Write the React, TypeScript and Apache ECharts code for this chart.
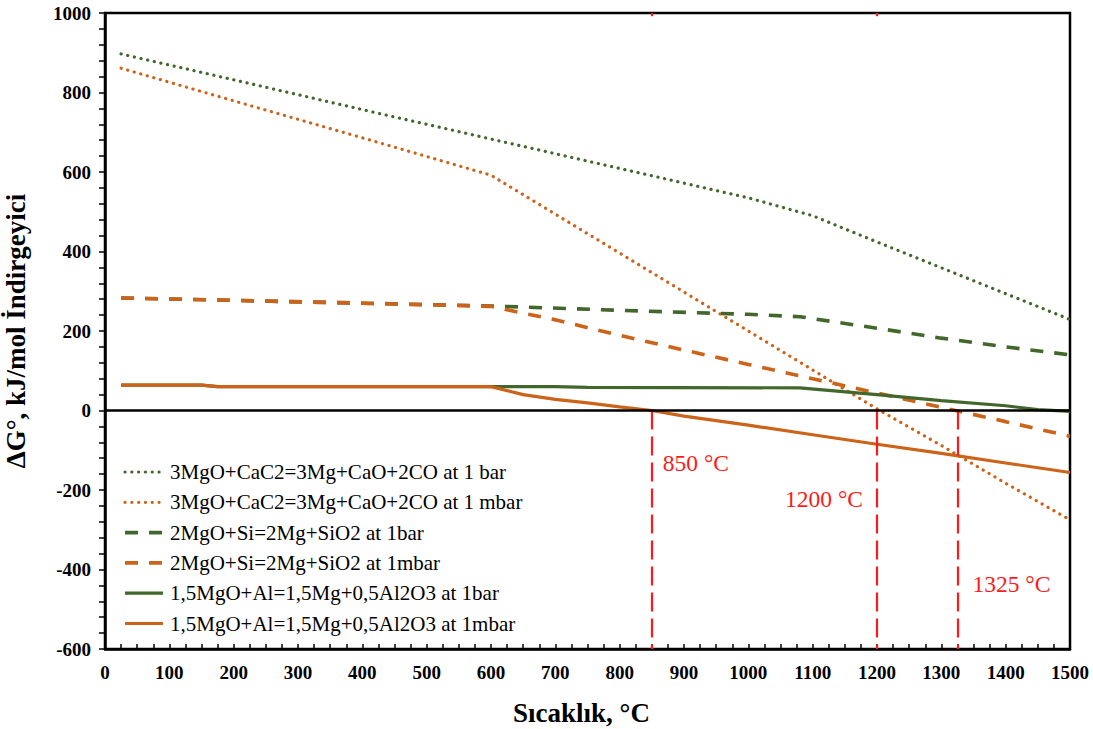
import React, { useEffect, useRef } from "react";
import * as echarts from "echarts";

// Temperatures (°C) and ΔG° values (kJ/mol reductant) for each reaction
const cac2BarT = [25, 200, 400, 600, 800, 1000, 1100, 1200, 1300, 1400, 1500];
const cac2BarG = [897, 832, 757, 683, 609, 535, 490, 424, 359, 294, 229];

const cac2MbarT = [25, 200, 400, 600, 700, 800, 900, 1000, 1100, 1200, 1300, 1400, 1500];
const cac2MbarG = [861, 779, 686, 592, 494, 396, 298, 200, 102, 4, -88, -183, -275];

const siBarT = [25, 200, 400, 600, 800, 1000, 1080, 1200, 1300, 1400, 1500];
const siBarG = [283, 277, 270, 263, 252, 242, 236, 207, 182, 160, 140];

const siMbarT = [25, 200, 400, 600, 700, 800, 900, 1000, 1100, 1200, 1300, 1400, 1500];
const siMbarG = [283, 277, 270, 262, 228, 189, 152, 116, 80, 44, 8, -28, -65];

const alBarT = [25, 150, 175, 600, 700, 750, 1080, 1200, 1300, 1400, 1450, 1500];
const alBarG = [64, 64, 60, 60, 60, 58, 57, 40, 25, 12, 2, -2];

const alMbarT = [25, 150, 175, 600, 650, 700, 750, 800, 850, 900, 1000, 1100, 1200, 1300, 1400, 1500];
const alMbarG = [64, 64, 60, 60, 40, 28, 19, 9, 0, -14, -37, -61, -85, -108, -132, -156];

const seriesNames = [
  "3MgO+CaC2=3Mg+CaO+2CO at 1 bar",
  "3MgO+CaC2=3Mg+CaO+2CO at 1 mbar",
  "2MgO+Si=2Mg+SiO2 at 1bar",
  "2MgO+Si=2Mg+SiO2 at 1mbar",
  "1,5MgO+Al=1,5Mg+0,5Al2O3 at 1bar",
  "1,5MgO+Al=1,5Mg+0,5Al2O3 at 1mbar",
];

// Temperatures where ΔG° reaches zero at 1 mbar
const criticalT = [850, 1200, 1325];
const criticalLabels = ["850 °C", "1200 °C", "1325 °C"];

const xTicks = { min: 0, max: 1500, step: 100 };
const yTicks = { min: -600, max: 1000, step: 200 };

const GREEN = "#41672b";
const ORANGE = "#cc6319";
const RED = "#ff1a1a";
const SERIF = "'Liberation Serif', 'Times New Roman', serif";

const pairs = (t: number[], g: number[]) => t.map((v, i) => [v, g[i]]);

const DOTTED = [0.1, 6.7];
const DASHED = [13, 11];

// stroke settings per series, in the same order as seriesNames
const strokes = [
  { color: GREEN, dash: DOTTED, width: 3.2, cap: "round" },
  { color: ORANGE, dash: DOTTED, width: 3.2, cap: "round" },
  { color: GREEN, dash: DASHED, width: 3.6, cap: "butt" },
  { color: ORANGE, dash: DASHED, width: 3.6, cap: "butt" },
  { color: GREEN, dash: null, width: 3.2, cap: "butt" },
  { color: ORANGE, dash: null, width: 3.2, cap: "butt" },
];

export default function App() {
  const ref = useRef<HTMLDivElement>(null);

  useEffect(() => {
    if (!ref.current) return;
    const chart = echarts.init(ref.current, undefined, { renderer: "svg" });

    const dataSets = [
      pairs(cac2BarT, cac2BarG),
      pairs(cac2MbarT, cac2MbarG),
      pairs(siBarT, siBarG),
      pairs(siMbarT, siMbarG),
      pairs(alBarT, alBarG),
      pairs(alMbarT, alMbarG),
    ];

    const redLines = criticalT.map((t) => [
      { coord: [t, 0] },
      { coord: [t, yTicks.min] },
    ]);
    const topMarks = criticalT.slice(0, 2).map((t) => [
      { coord: [t, yTicks.max] },
      { coord: [t, yTicks.max - 8] },
    ]);

    const series: any[] = seriesNames.map((name, i) => ({
      name,
      type: "line",
      data: dataSets[i],
      symbol: "none",
      showSymbol: false,
      smooth: false,
      z: 3,
      lineStyle: {
        color: strokes[i].color,
        type: strokes[i].dash || "solid",
        width: strokes[i].width,
        cap: strokes[i].cap,
      },
      itemStyle: { color: strokes[i].color },
    }));

    series[0].markLine = {
      silent: true,
      symbol: "none",
      label: { show: false },
      lineStyle: { color: RED, type: [19, 7], width: 2.2 },
      data: [...redLines, ...topMarks],
    };
    series[5].markLine = {
      silent: true,
      symbol: "none",
      label: { show: false },
      lineStyle: { color: "#000", type: "solid", width: 2.5 },
      data: [{ yAxis: 0 }],
    };

    const tickFont = { fontFamily: SERIF, fontWeight: "bold", fontSize: 19, color: "#000" };

    chart.setOption({
      animation: false,
      textStyle: { fontFamily: SERIF },
      grid: {
        left: 105,
        right: 23,
        top: 13,
        bottom: 80,
        outerBoundsMode: "none",
        show: true,
        borderColor: "#000",
        borderWidth: 2.5,
        backgroundColor: "transparent",
      },
      xAxis: {
        type: "value",
        min: xTicks.min,
        max: xTicks.max,
        interval: xTicks.step,
        name: "Sıcaklık, °C",
        nameLocation: "middle",
        nameGap: 50,
        nameTextStyle: {
          fontFamily: SERIF,
          fontWeight: "bold",
          fontSize: 27,
          color: "#000",
          padding: [0, 12, 0, 0],
        },
        axisLine: { onZero: false, lineStyle: { color: "#000", width: 2.5 } },
        axisTick: { inside: true, length: 5, lineStyle: { color: "#000", width: 1.5 } },
        minorTick: { show: true, splitNumber: 4, length: 5, lineStyle: { color: "#000", width: 1.5 } },
        splitLine: { show: false },
        axisLabel: { ...tickFont, margin: 14, formatter: (v: number) => String(v) },
      },
      yAxis: {
        type: "value",
        min: yTicks.min,
        max: yTicks.max,
        interval: yTicks.step,
        name: "ΔG°, kJ/mol İndirgeyici",
        nameLocation: "middle",
        nameGap: 76,
        nameTextStyle: { fontFamily: SERIF, fontWeight: "bold", fontSize: 27, color: "#000" },
        axisLine: { lineStyle: { color: "#000", width: 2.5 } },
        axisTick: { inside: false, length: 6, lineStyle: { color: "#000", width: 1.5 } },
        minorTick: { show: true, splitNumber: 5, length: 6, lineStyle: { color: "#000", width: 1.5 } },
        splitLine: { show: false },
        axisLabel: { ...tickFont, margin: 14, formatter: (v: number) => String(v) },
      },
      series,
    });

    // Legend: line sample + reaction label for every series
    const legendX = 125;
    const legendY0 = 472;
    const legendStep = 30.3;
    const legend: any[] = [];
    seriesNames.forEach((name, i) => {
      const y = legendY0 + i * legendStep;
      const s = strokes[i];
      legend.push({
        type: "line",
        shape: { x1: legendX, y1: y, x2: legendX + 38, y2: y },
        style: {
          stroke: s.color,
          lineWidth: s.width,
          lineDash: s.dash || undefined,
          lineCap: s.cap,
        },
        z: 10,
      });
      legend.push({
        type: "text",
        x: legendX + 45,
        y,
        style: {
          text: name,
          fill: "#000",
          font: `21px ${SERIF}`,
          textAlign: "left",
          textVerticalAlign: "middle",
        },
        z: 10,
      });
    });

    // Red temperature annotations next to their vertical markers
    const offsets = [
      { dx: 11, y: -132, align: "left" },
      { dx: -14, y: -222, align: "right" },
      { dx: 15, y: -437, align: "left" },
    ];
    const notes = criticalT.map((t, i) => {
      const p = chart.convertToPixel({ gridIndex: 0 }, [t, offsets[i].y]) as number[];
      return {
        type: "text",
        x: p[0] + offsets[i].dx,
        y: p[1],
        style: {
          text: criticalLabels[i],
          fill: RED,
          font: `23.5px ${SERIF}`,
          textAlign: offsets[i].align,
          textVerticalAlign: "middle",
        },
        z: 10,
      };
    });

    chart.setOption({ graphic: [...legend, ...notes] });

    return () => chart.dispose();
  }, []);

  return (
    <div
      ref={ref}
      style={{ position: "fixed", left: 0, top: 0, width: 1093, height: 729, background: "#fff" }}
    />
  );
}
